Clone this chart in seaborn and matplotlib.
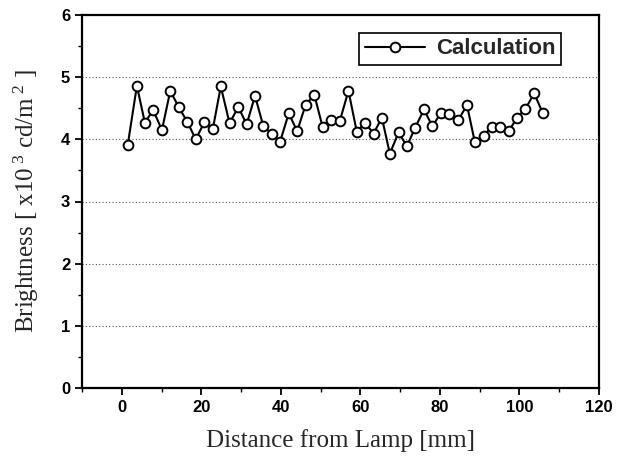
import matplotlib
matplotlib.use("Agg")
import matplotlib.pyplot as plt
import seaborn as sns
import pandas as pd
from matplotlib.ticker import MultipleLocator

distance_mm = [1.5, 3.8, 5.8, 7.9, 10.1, 12.2, 14.3, 16.5, 18.6, 20.8,
               22.9, 24.9, 27.1, 29.3, 31.4, 33.5, 35.6, 37.7, 39.8, 42.0,
               44.1, 46.2, 48.4, 50.5, 52.6, 54.8, 57.0, 59.1, 61.2, 63.3,
               65.4, 67.4, 69.6, 71.7, 73.8, 76.0, 78.1, 80.3, 82.4, 84.6,
               86.8, 88.8, 91.0, 93.0, 95.1, 97.3, 99.4, 101.5, 103.7, 105.8]
brightness = [3.91, 4.86, 4.27, 4.47, 4.15, 4.78, 4.52, 4.28, 4.00, 4.28,
              4.17, 4.85, 4.26, 4.52, 4.24, 4.70, 4.21, 4.09, 3.96, 4.42,
              4.13, 4.55, 4.72, 4.20, 4.31, 4.29, 4.78, 4.12, 4.27, 4.09,
              4.35, 3.77, 4.11, 3.89, 4.19, 4.48, 4.21, 4.43, 4.41, 4.31,
              4.55, 3.95, 4.06, 4.20, 4.20, 4.13, 4.35, 4.49, 4.74, 4.43]
series_name = "Calculation"
x_ticks = [0, 20, 40, 60, 80, 100, 120]
y_ticks = [0, 1, 2, 3, 4, 5, 6]

df = pd.DataFrame({"x": distance_mm, "y": brightness, "s": series_name})

sns.set_theme(style="white")
plt.rcParams["font.family"] = ["Liberation Sans", "DejaVu Sans"]
plt.rcParams["mathtext.fontset"] = "custom"
plt.rcParams["mathtext.rm"] = "Liberation Serif"
plt.rcParams["mathtext.it"] = "Liberation Serif:italic"

fig = plt.figure(figsize=(6.17, 4.57), dpi=100)
ax = fig.add_axes([82/617, 1-388/457, (599-82)/617, (388-15)/457])

sns.lineplot(data=df, x="x", y="y", hue="s", palette=["black"], ax=ax,
             marker="o", markersize=7, markerfacecolor="white",
             markeredgecolor="black", markeredgewidth=1.4, linewidth=1.5,
             zorder=3)

ax.set_xlim(-10, 120)
ax.set_ylim(0, 6)
ax.set_xticks(x_ticks)
ax.set_yticks(y_ticks)
ax.xaxis.set_minor_locator(MultipleLocator(10))
ax.yaxis.set_minor_locator(MultipleLocator(0.5))
ax.tick_params(axis="both", which="major", direction="out", length=5, width=1.3,
               colors="black", labelsize=12, bottom=True, left=True)
ax.tick_params(axis="both", which="minor", direction="out", length=3, width=1.0,
               colors="black", bottom=True, left=True)
for lbl in ax.get_xticklabels() + ax.get_yticklabels():
    lbl.set_fontweight("bold")

for sp in ax.spines.values():
    sp.set_visible(True)
    sp.set_color("black")
    sp.set_linewidth(1.6)

for yv in y_ticks[1:-1]:
    ax.axhline(yv, color="#555555", linestyle=(0, (1, 2)), linewidth=0.8, zorder=1)

ax.set_xlabel("Distance from Lamp [mm]", fontsize=18,
              family=["Liberation Serif", "DejaVu Serif"], labelpad=10)
ax.set_ylabel("Brightness [ x10$^{\\ 3}$ cd/m$^{\\ 2}$ ]", fontsize=18,
              family=["Liberation Serif", "DejaVu Serif"], labelpad=14)

leg = ax.legend(loc="upper right", bbox_to_anchor=(0.926, 0.952), frameon=True,
                fancybox=False, edgecolor="black", framealpha=1,
                handlelength=2.7, handletextpad=0.5, borderpad=0.25,
                borderaxespad=0, prop={"weight": "bold", "size": 16})
leg.get_frame().set_linewidth(1.2)
leg.get_frame().set_edgecolor("black")

fig.savefig("out.png", dpi=100)
